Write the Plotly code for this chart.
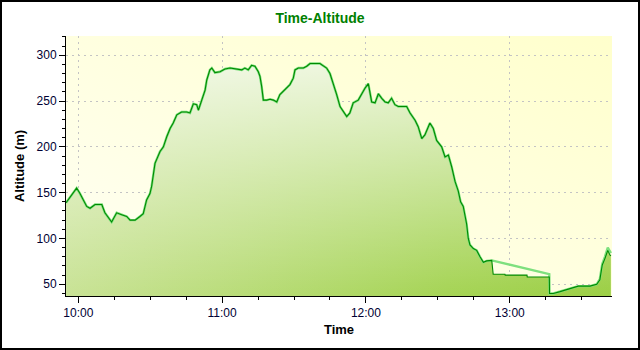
import base64
import plotly.graph_objects as go

# ---- data (clock time, altitude in m) ----
day = "2024-01-01 "
times = [
    "09:54:54", "09:57:15", "09:59:18", "10:00:42", "10:03:30", "10:04:54", "10:07:00", "10:09:48",
    "10:11:06", "10:13:54", "10:16:00", "10:18:06", "10:20:12", "10:21:36", "10:23:42", "10:25:42",
    "10:27:06", "10:28:30", "10:29:54", "10:30:36", "10:32:00", "10:34:06", "10:35:30", "10:36:54",
    "10:38:18", "10:39:36", "10:41:06", "10:43:06", "10:45:12", "10:46:36", "10:48:00", "10:49:24",
    "10:50:06", "10:51:30", "10:52:54", "10:53:36", "10:54:54", "10:55:42", "10:57:00", "10:59:06",
    "11:01:12", "11:03:18", "11:06:06", "11:08:12", "11:09:30", "11:10:54", "11:12:18", "11:13:42",
    "11:15:06", "11:15:48", "11:16:30", "11:17:12", "11:18:36", "11:20:00", "11:21:24", "11:22:48",
    "11:24:06", "11:26:12", "11:28:18", "11:29:42", "11:30:24", "11:31:48", "11:33:54", "11:35:18",
    "11:36:42", "11:40:48", "11:42:12", "11:43:36", "11:45:00", "11:46:24", "11:47:48", "11:49:12",
    "11:50:36", "11:52:00", "11:53:18", "11:54:42", "11:56:48", "11:58:12", "11:59:36", "12:01:00",
    "12:02:24", "12:03:48", "12:05:12", "12:06:36", "12:08:00", "12:09:18", "12:10:42", "12:12:06",
    "12:13:30", "12:17:00", "12:18:24", "12:20:30", "12:21:48", "12:23:18", "12:24:36", "12:26:42",
    "12:28:06", "12:29:30", "12:31:36", "12:33:00", "12:34:24", "12:35:48", "12:37:12", "12:38:30",
    "12:39:30", "12:40:36", "12:41:18", "12:42:00", "12:42:42", "12:43:24", "12:44:48", "12:46:12",
    "12:47:36", "12:49:00", "12:50:24", "12:52:30",
]
altitude = [
    139, 147, 155, 149, 135, 133, 137, 137,
    128, 118, 128, 126, 124, 120, 120, 124,
    127, 142, 149, 157, 182, 195, 200, 211,
    220, 226, 235, 238, 238, 237, 247, 246,
    240, 251, 262, 273, 284, 286, 281, 282,
    285, 286, 285, 284, 286, 284, 289, 288,
    282, 277, 266, 251, 251, 252, 251, 249,
    257, 262, 268, 275, 284, 286, 286, 288,
    291, 291, 288, 286, 280, 269, 257, 244,
    238, 233, 237, 248, 251, 258, 264, 269,
    249, 248, 258, 253, 249, 248, 253, 246,
    244, 244, 237, 229, 222, 209, 213, 226,
    220, 207, 200, 189, 191, 178, 162, 152,
    140, 135, 127, 116, 100, 93, 89, 87,
    80, 74, 75.5, 76,
]
# signal-loss stretch: recorded track (dark) vs. raw straight link (light)
gap_times = ["12:53:06", "12:58:00", "12:58:06", "13:07:12", "13:07:18", "13:16:30"]
gap_altitude = [61, 61, 60, 60, 58, 58]
raw_gap_times = ["13:16:30"]
raw_gap_altitude = [61]
tail_times = [
    "13:16:36", "13:18:12", "13:21:00", "13:23:48", "13:26:30", "13:28:36", "13:33:30",
    "13:36:18", "13:37:36", "13:38:36", "13:39:42", "13:40:54", "13:41:48", "13:42:12",
]
tail_altitude = [40, 40, 42, 44, 46, 48, 48, 50, 55, 71, 78, 87, 82, 81]
raw_tail_altitude = [40, 40, 42, 44, 46, 48, 48, 50, 56, 72, 80, 90, 86, 84]

x_range = [day + "09:54:52", day + "13:42:40"]
y_range = [37.2, 321]

track_x = [day + t for t in times + gap_times + tail_times]
track_y = altitude + gap_altitude + tail_altitude
raw_x = [day + t for t in times + raw_gap_times + tail_times]
raw_y = altitude + raw_gap_altitude + raw_tail_altitude

fig = go.Figure()

# green area with diagonal-looking shading (horizontal base + vertical light overlay)
fig.add_trace(go.Scatter(
    x=track_x, y=track_y, mode="lines", line=dict(width=0), fill="tozeroy",
    fillgradient=dict(type="horizontal",
                      colorscale=[[0, "#c9e396"], [0.7, "#a6d456"], [1, "#9ccf46"]]),
    hoverinfo="skip", showlegend=False))
fig.add_trace(go.Scatter(
    x=track_x, y=track_y, mode="lines", line=dict(width=0), fill="tozeroy",
    fillgradient=dict(type="vertical", start=40, stop=295,
                      colorscale=[[0, "rgba(255,255,255,0)"], [1, "rgba(255,255,255,0.8)"]]),
    hoverinfo="skip", showlegend=False))
# raw (light) and recorded (dark) altitude lines
fig.add_trace(go.Scatter(x=raw_x, y=raw_y, mode="lines",
                         line=dict(color="#7ee07e", width=2.4), showlegend=False))
fig.add_trace(go.Scatter(x=track_x, y=track_y, mode="lines",
                         line=dict(color="#008a00", width=1.1), showlegend=False))

# plot-area background gradient (light yellow)
svg = ('<svg xmlns="http://www.w3.org/2000/svg" width="546" height="260" preserveAspectRatio="none">'
       '<defs><linearGradient id="g" x1="0" y1="1" x2="1" y2="0">'
       '<stop offset="0" stop-color="#fffff4"/><stop offset="1" stop-color="#ffffcc"/>'
       '</linearGradient></defs><rect width="546" height="260" fill="url(#g)"/></svg>')
src = "data:image/svg+xml;base64," + base64.b64encode(svg.encode()).decode()
fig.add_layout_image(dict(source=src, xref="paper", yref="paper", x=0, y=1, sizex=1, sizey=1,
                          sizing="stretch", xanchor="left", yanchor="top", layer="below"))

tick_font = dict(family="Liberation Sans, Arial", size=12, color="#000033")
title_font = dict(family="Liberation Sans, Arial", size=13, color="#000000")

fig.update_layout(
    width=640, height=350,
    margin=dict(l=66, r=28, t=36, b=54),
    paper_bgcolor="white", plot_bgcolor="rgba(0,0,0,0)",
    title=dict(text="<b>Time-Altitude</b>", x=0.5, xref="container", y=0.949, yanchor="middle",
               font=dict(family="Liberation Sans, Arial", size=14, color="#008000")),
    xaxis=dict(type="date", range=x_range, tickformat="%H:%M", dtick=3600000,
               tick0=day + "10:00:00",
               showline=True, linecolor="black", linewidth=1,
               ticks="outside", ticklen=6, tickcolor="black", tickfont=tick_font,
               showgrid=True, gridcolor="#c4c4c4", griddash="2px,4px", gridwidth=1,
               minor=dict(dtick=900000, ticks="outside", ticklen=3, tickcolor="black", showgrid=False),
               title=dict(text="<b>Time</b>", font=title_font, standoff=5),
               zeroline=False, fixedrange=True, automargin=False),
    yaxis=dict(range=y_range, dtick=50, tick0=0,
               showline=True, linecolor="black", linewidth=1,
               ticks="outside", ticklen=6, tickcolor="black", tickfont=tick_font,
               showgrid=True, gridcolor="#c4c4c4", griddash="2px,4px", gridwidth=1,
               minor=dict(dtick=10, ticks="outside", ticklen=3, tickcolor="black", showgrid=False),
               title=dict(text="<b>Altitude (m)</b>", font=title_font, standoff=9),
               zeroline=False, fixedrange=True, automargin=False),
    xaxis2=dict(type="date", range=x_range, overlaying="x", side="top", anchor="y",
                dtick=3600000, tick0=day + "10:00:00", showticklabels=False,
                showline=True, linecolor="black", linewidth=1,
                ticks="inside", ticklen=4, tickcolor="black", showgrid=False, zeroline=False,
                minor=dict(dtick=900000, ticks="inside", ticklen=3, tickcolor="black", showgrid=False)),
    yaxis2=dict(range=y_range, overlaying="y", side="right", anchor="x",
                dtick=50, tick0=0, showticklabels=False,
                showline=True, linecolor="black", linewidth=1,
                ticks="inside", ticklen=4, tickcolor="black", showgrid=False, zeroline=False,
                minor=dict(dtick=10, ticks="inside", ticklen=3, tickcolor="black", showgrid=False)),
    showlegend=False,
)

# outer frame of the whole chart
pw, ph = 640 - 66 - 28, 350 - 36 - 54
fig.add_shape(type="rect", xref="paper", yref="paper",
              x0=-66 / pw, x1=1 + 28 / pw, y0=-54 / ph, y1=1 + 36 / ph,
              line=dict(color="black", width=4), fillcolor="rgba(0,0,0,0)", layer="above")

fig.write_html("out.html", config={"displayModeBar": False},
               post_script="document.body.style.margin='0';")
